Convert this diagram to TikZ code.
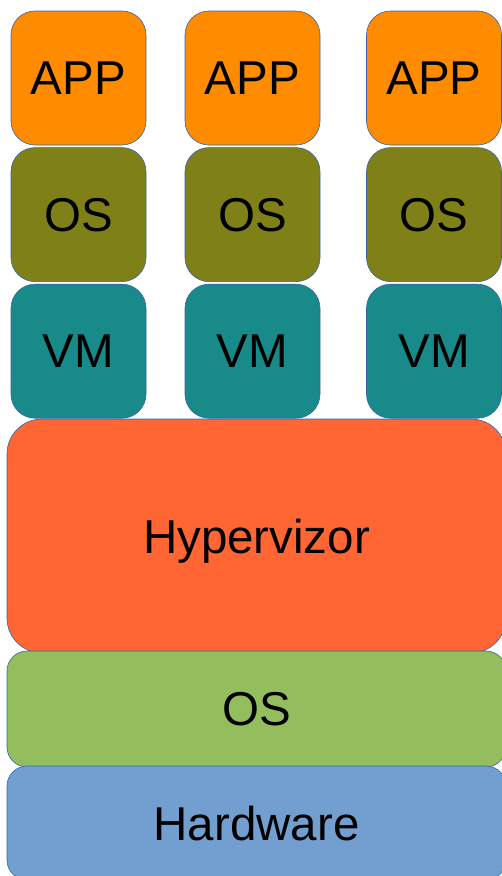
\documentclass[tikz,border=0pt]{standalone}
\usepackage{fontspec}
\setmainfont{Liberation Sans}
\usetikzlibrary{positioning}

\definecolor{appcol}{HTML}{FF8C00}
\definecolor{guestcol}{HTML}{808019}
\definecolor{vmcol}{HTML}{198A8A}
\definecolor{hypcol}{HTML}{FF6633}
\definecolor{hostcol}{HTML}{94BD5E}
\definecolor{hwcol}{HTML}{729FCF}
\definecolor{edgecol}{HTML}{3465A4}

\begin{document}
\begin{tikzpicture}[
x=1pt, y=1pt,
node distance=2pt,
every node/.style={
    draw=edgecol,
    line width=0.6pt,
    rounded corners=24pt,
    minimum width=135pt,
    minimum height=134pt,
    inner sep=0pt,
    text depth=0pt,
    font=\fontsize{47.5}{50}\selectfont
},
app/.style={fill=appcol},
guest/.style={fill=guestcol},
vm/.style={fill=vmcol},
wide/.style={minimum width=499pt, rounded corners=20pt}
]

\useasboundingbox (0,0) rectangle (502,-876);

\node (app1) [app] at (78.5,-78) {APP};
\node (app2) [app] at (252.5,-78) {APP};
\node (app3) [app] at (434,-78) {APP};

\node (os1) [guest, below=of app1] {OS};
\node (os2) [guest, below=of app2] {OS};
\node (os3) [guest, below=of app3] {OS};

\node (vm1) [vm, below=of os1] {VM};
\node (vm2) [vm, below=of os2] {VM};
\node (vm3) [vm, below=of os3] {VM};

\node (hyper) [wide, fill=hypcol, minimum height=234pt, rounded corners=35pt]
    at (256.5,-536) {Hypervizor};

\node (hostos) [wide, fill=hostcol, minimum height=116pt]
    at (256.5,-709) {OS};

\node (hw) [wide, fill=hwcol, minimum height=114pt]
    at (256.5,-823) {Hardware};

\end{tikzpicture}
\end{document}
